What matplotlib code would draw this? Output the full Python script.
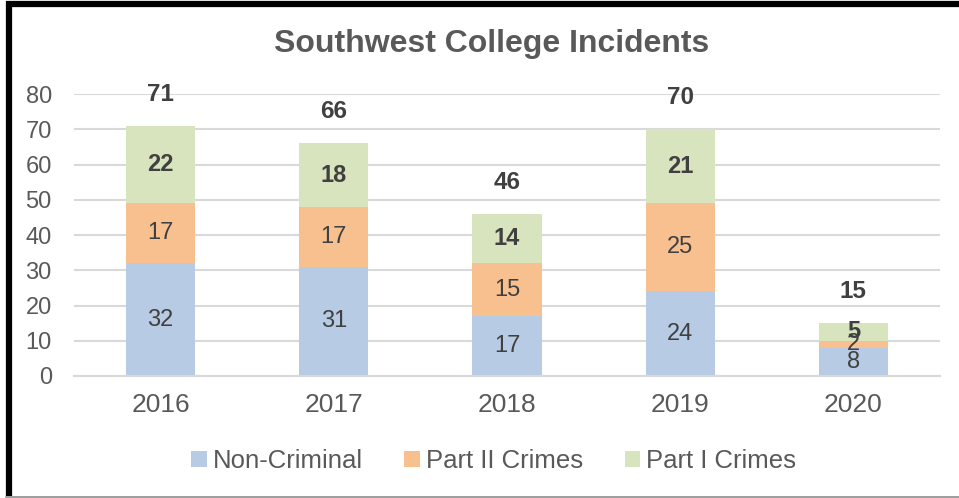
import numpy as np
import matplotlib
matplotlib.use('Agg')
import matplotlib.pyplot as plt
from matplotlib.lines import Line2D

years = ['2016', '2017', '2018', '2019', '2020']
non_criminal = [32, 31, 17, 24, 8]
part_ii = [17, 17, 15, 25, 2]
part_i = [22, 18, 14, 21, 5]

plt.rcParams['font.family'] = ['Liberation Sans', 'DejaVu Sans']

fig = plt.figure(figsize=(9.59, 4.98), dpi=100)
ax = fig.add_axes([0.0772, 0.245, 0.903, 0.566])

x = np.arange(len(years))
nc = np.array(non_criminal)
p2 = np.array(part_ii)
p1 = np.array(part_i)
totals = nc + p2 + p1

w = 0.4
b1 = ax.bar(x, nc, w, color='#B7CBE4', label='Non-Criminal', zorder=2)
b2 = ax.bar(x, p2, w, bottom=nc, color='#F8C08F', label='Part II Crimes', zorder=2)
b3 = ax.bar(x, p1, w, bottom=nc + p2, color='#D8E4BD', label='Part I Crimes', zorder=2)

lab_col = '#404040'
for i in range(len(years)):
    ax.text(x[i], nc[i] / 2, str(nc[i]), ha='center', va='center', fontsize=17, color=lab_col, zorder=3)
    ax.text(x[i], nc[i] + p2[i] / 2, str(p2[i]), ha='center', va='center', fontsize=17, color=lab_col, zorder=3)
    ax.text(x[i], nc[i] + p2[i] + p1[i] / 2, str(p1[i]), ha='center', va='center', fontsize=17,
            fontweight='bold', color=lab_col, zorder=3)
    ax.text(x[i], totals[i] + 9, str(totals[i]), ha='center', va='center', fontsize=17.5,
            fontweight='bold', color=lab_col, zorder=3, clip_on=False)

ax.set_xlim(-0.5, len(years) - 0.5)
ax.set_ylim(0, 80)
ax.set_yticks(range(0, 81, 10))
ax.set_xticks(x)
ax.set_xticklabels(years)
ax.tick_params(axis='x', length=0, labelsize=19, labelcolor='#595959', pad=12)
ax.tick_params(axis='y', length=0, labelsize=17, labelcolor='#595959', pad=16)
ax.grid(axis='y', color='#D9D9D9', linewidth=1.5, zorder=0)
for s in ['top', 'right', 'left']:
    ax.spines[s].set_visible(False)
ax.spines['bottom'].set_color('#D9D9D9')
ax.spines['bottom'].set_linewidth(1.5)

fig.text(0.5125, 0.912, 'Southwest College Incidents', ha='center', va='center',
         fontsize=23, fontweight='bold', color='#595959')

leg = fig.legend(handles=[b1, b2, b3], loc='center', bbox_to_anchor=(0.515, 0.074), ncol=3,
                 frameon=False, fontsize=18.5, handlelength=0.6, handleheight=0.6,
                 handletextpad=0.25, columnspacing=1.6)
for t in leg.get_texts():
    t.set_color('#595959')

# outer frame
fig.add_artist(Line2D([9 / 959, 9 / 959], [0.004, 1 - 1 / 498], color='black', linewidth=4.5,
                      transform=fig.transFigure, solid_capstyle='butt'))
fig.add_artist(Line2D([6 / 959, 1.0], [1 - 4 / 498, 1 - 4 / 498], color='black', linewidth=4.5,
                      transform=fig.transFigure, solid_capstyle='butt'))
fig.add_artist(Line2D([6 / 959, 1.0], [1.5 / 498, 1.5 / 498], color='#8C8C8C', linewidth=1.2,
                      transform=fig.transFigure))

fig.savefig('out.png', dpi=100, facecolor='white')
